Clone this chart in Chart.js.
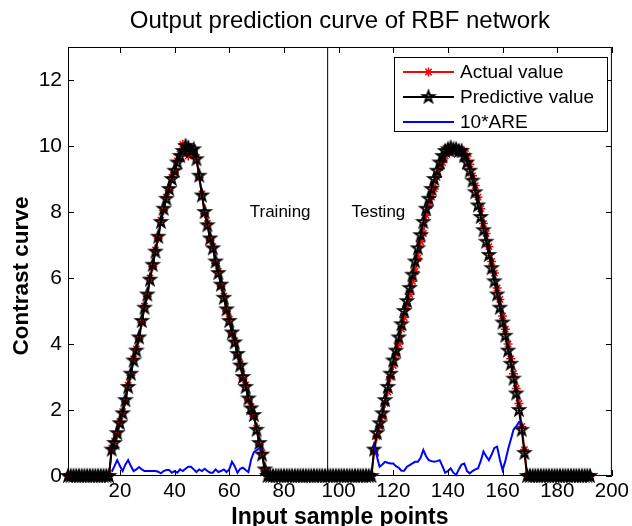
<!DOCTYPE html>
<html>
<head>
<meta charset="utf-8">
<script src="https://cdn.jsdelivr.net/npm/chart.js@4.4.0/dist/chart.umd.min.js"></script>
<style>
  html, body { margin: 0; padding: 0; background: #fff; }
  #wrap { width: 632px; height: 526px; }
</style>
</head>
<body>
<div id="wrap"><canvas id="rbfChart" width="632" height="526"></canvas></div>
<script>
// sample index 1..192 (training 1..95, testing 96..192)
const sampleCount = 192;
const samples = Array.from({ length: sampleCount }, (_, i) => i + 1);

const xTicks = [20, 40, 60, 80, 100, 120, 140, 160, 180, 200];
const yTicks = [0, 2, 4, 6, 8, 10, 12];
const splitPoint = 96;

// Actual value (red *)
const actualValue = [
    0, 0, 0, 0, 0, 0, 0, 0, 0, 0, 0, 0, 0, 0, 0, 0,
    0.85, 1.05, 1.25, 1.65, 1.95, 2.25, 2.75, 3.05, 3.55, 3.85,
    4.15, 4.65, 5.15, 5.45, 6.0, 6.35, 6.85, 7.2, 7.75, 8.05,
    8.45, 8.65, 9.05, 9.2, 9.55, 9.75, 10.05, 9.9, 9.7, 9.75,
    9.85, 9.65, 9.05, 8.55, 7.95, 7.65, 7.15, 6.95, 6.45, 6.2,
    5.75, 5.45, 5.0, 4.75, 4.3, 4.1, 3.65, 3.4, 2.95, 2.75,
    2.3, 2.1, 1.8, 1.45, 0.95, 0.7, 0.15, 0,
    0, 0, 0, 0, 0, 0, 0, 0, 0, 0, 0, 0, 0, 0, 0, 0, 0, 0, 0,
    0, 0, 0, 0, 0, 0, 0, 0, 0, 0, 0, 0, 0, 0, 0, 0, 0, 0, 0,
    0.75, 1.2, 1.5, 1.8, 2.2, 2.55, 3.0, 3.35, 3.7, 4.0,
    4.45, 4.8, 5.15, 5.5, 5.9, 6.2, 6.6, 7.1, 7.35, 7.9,
    8.2, 8.45, 8.7, 9.05, 9.35, 9.5, 9.7, 9.95, 9.85, 9.8,
    9.95, 9.9, 9.75, 9.85, 9.7, 9.45, 9.1, 8.8, 8.45, 8.1,
    7.65, 7.35, 6.95, 6.5, 6.15, 5.7, 5.35, 4.85, 4.45, 4.0,
    3.55, 3.1, 2.65, 2.2, 1.5, 0.8, 0,
    0, 0, 0, 0, 0, 0, 0, 0, 0, 0, 0, 0, 0, 0, 0, 0, 0, 0, 0, 0, 0, 0, 0
];

// Predictive value (black pentagram)
const predictiveValue = [
    0, 0, 0, 0, 0, 0, 0, 0, 0, 0, 0, 0, 0, 0, 0, 0,
    0.8, 1.0, 1.3, 1.6, 1.9, 2.3, 2.7, 3.1, 3.5, 3.8,
    4.2, 4.7, 5.1, 5.5, 5.95, 6.4, 6.8, 7.25, 7.7, 8.1,
    8.4, 8.7, 9.0, 9.25, 9.5, 9.7, 9.85, 10.0, 9.95, 9.85,
    9.9, 9.6, 9.1, 8.5, 8.0, 7.6, 7.2, 6.9, 6.5, 6.15,
    5.8, 5.4, 5.05, 4.7, 4.35, 4.05, 3.7, 3.35, 3.0, 2.7,
    2.35, 2.05, 1.85, 1.4, 1.0, 0.65, 0.2, 0,
    0, 0, 0, 0, 0, 0, 0, 0, 0, 0, 0, 0, 0, 0, 0, 0, 0, 0, 0,
    0, 0, 0, 0, 0, 0, 0, 0, 0, 0, 0, 0, 0, 0, 0, 0, 0, 0, 0,
    0.8, 1.3, 1.6, 1.9, 2.3, 2.7, 3.1, 3.5, 3.8, 4.2,
    4.6, 5.0, 5.3, 5.7, 6.1, 6.5, 6.9, 7.3, 7.7, 8.1,
    8.4, 8.7, 9.0, 9.25, 9.5, 9.7, 9.85, 9.9, 9.95, 9.9,
    9.9, 9.85, 9.85, 9.7, 9.5, 9.25, 8.95, 8.6, 8.2, 7.85,
    7.45, 7.1, 6.7, 6.3, 5.9, 5.5, 5.1, 4.65, 4.25, 3.8,
    3.4, 2.95, 2.5, 2.0, 1.4, 0.7, 0,
    0, 0, 0, 0, 0, 0, 0, 0, 0, 0, 0, 0, 0, 0, 0, 0, 0, 0, 0, 0, 0, 0, 0
];

// 10*ARE, only where the curve is non zero
const areTrainStart = 17;
const areTrain = [
    0.13, 0.3, 0.48, 0.3, 0.15, 0.35, 0.48, 0.3, 0.15, 0.2,
    0.27, 0.2, 0.15, 0.15, 0.15, 0.15, 0.15, 0.13, 0.08, 0.15,
    0.18, 0.18, 0.1, 0.15, 0.1, 0.2, 0.15, 0.22, 0.28, 0.28,
    0.2, 0.12, 0.2, 0.15, 0.22, 0.15, 0.1, 0.1, 0.2, 0.12,
    0.15, 0.2, 0.12, 0.2, 0.43, 0.3, 0.1, 0.22, 0.25, 0.18,
    0.12, 0.5, 0.72, 0.78, 0.84, 0.84
];
const areTestStart = 113;
const areTest = [
    0.95, 0.6, 0.28, 0.35, 0.43, 0.4, 0.38, 0.38, 0.3, 0.25,
    0.16, 0.16, 0.28, 0.33, 0.38, 0.43, 0.43, 0.55, 0.79, 0.6,
    0.48, 0.45, 0.43, 0.45, 0.48, 0.3, 0.1, 0.15, 0.23, 0.1,
    0.03, 0.2, 0.35, 0.38, 0.15, 0.08, 0.15, 0.2, 0.23, 0.45,
    0.74, 0.6, 0.48, 0.65, 0.85, 0.89, 0.5, 0.18, 0.45, 0.8,
    1.1, 1.4, 1.5, 1.64, 1.64
];

const areLine = areTrain.map((v, i) => ({ x: areTrainStart + i, y: v }))
    .concat([{ x: 95, y: null }])
    .concat(areTest.map((v, i) => ({ x: areTestStart + i, y: v })));

const FONT = "'Liberation Sans', Arial, sans-serif";

// MATLAB style pentagram marker
function makePentagram(r, lw) {
    const size = Math.ceil(2 * r + lw * 2 + 2);
    const c = document.createElement('canvas');
    c.width = size;
    c.height = size;
    const g = c.getContext('2d');
    const cx = size / 2, cy = size / 2;
    g.beginPath();
    for (let k = 0; k < 10; k++) {
        const rad = k % 2 === 0 ? r : r * 0.4;
        const a = -Math.PI / 2 + k * Math.PI / 5;
        const px = cx + rad * Math.cos(a), py = cy + rad * Math.sin(a);
        if (k === 0) g.moveTo(px, py); else g.lineTo(px, py);
    }
    g.closePath();
    g.lineWidth = lw;
    g.strokeStyle = '#000';
    g.stroke();
    return c;
}
const pentagram = makePentagram(5.8, 2);

function drawAsterisk(ctx, x, y, r, color) {
    ctx.strokeStyle = color;
    ctx.lineWidth = 1.5;
    ctx.beginPath();
    for (let k = 0; k < 4; k++) {
        const ang = k * Math.PI / 4;
        ctx.moveTo(x - r * Math.cos(ang), y - r * Math.sin(ang));
        ctx.lineTo(x + r * Math.cos(ang), y + r * Math.sin(ang));
    }
    ctx.stroke();
}

// title, y label, box, inward ticks, legend and text labels
const matlabFrame = {
    id: 'matlabFrame',
    afterDraw(chart) {
        const ctx = chart.ctx;
        const a = chart.chartArea;
        const xs = chart.scales.x, ys = chart.scales.y;
        ctx.save();

        ctx.fillStyle = '#000';
        ctx.textAlign = 'center';
        ctx.textBaseline = 'middle';
        ctx.font = '24px ' + FONT;
        ctx.fillText('Output prediction curve of RBF network', (a.left + a.right) / 2, 21);

        ctx.save();
        ctx.translate(22, 276);
        ctx.rotate(-Math.PI / 2);
        ctx.font = 'bold 22.5px ' + FONT;
        ctx.fillText('Contrast curve', 0, 0);
        ctx.restore();

        ctx.strokeStyle = '#000';
        ctx.lineWidth = 1;
        ctx.strokeRect(a.left + 0.5, a.top + 0.5, a.right - a.left - 1, a.bottom - a.top - 1);
        ctx.beginPath();
        xTicks.forEach(v => {
            const px = Math.round(xs.getPixelForValue(v)) + 0.5;
            ctx.moveTo(px, a.bottom); ctx.lineTo(px, a.bottom - 6);
            ctx.moveTo(px, a.top); ctx.lineTo(px, a.top + 6);
        });
        yTicks.forEach(v => {
            const py = Math.round(ys.getPixelForValue(v)) + 0.5;
            ctx.moveTo(a.left, py); ctx.lineTo(a.left + 6, py);
            ctx.moveTo(a.right, py); ctx.lineTo(a.right - 6, py);
        });
        ctx.stroke();

        // Training / Testing
        ctx.fillStyle = '#000';
        ctx.font = '17px ' + FONT;
        ctx.textBaseline = 'middle';
        ctx.textAlign = 'left';
        ctx.fillText('Training', xs.getPixelForValue(67.5), ys.getPixelForValue(8));
        ctx.fillText('Testing', xs.getPixelForValue(104.7), ys.getPixelForValue(8));

        // legend
        const bx = 394.5, by = 57.5, bw = 213, bh = 74;
        ctx.fillStyle = '#fff';
        ctx.fillRect(bx, by, bw, bh);
        ctx.strokeStyle = '#000';
        ctx.lineWidth = 1;
        ctx.strokeRect(bx, by, bw, bh);
        const rows = [
            { text: 'Actual value', color: '#ff0000', marker: 'star' },
            { text: 'Predictive value', color: '#000000', marker: 'penta' },
            { text: '10*ARE', color: '#0000ff', marker: null }
        ];
        ctx.font = '19px ' + FONT;
        rows.forEach((r, i) => {
            const y = 72 + i * 25;
            ctx.strokeStyle = r.color;
            ctx.lineWidth = 2;
            ctx.beginPath();
            ctx.moveTo(403, y); ctx.lineTo(454, y);
            ctx.stroke();
            if (r.marker === 'star') {
                drawAsterisk(ctx, 428.5, y, 4.5, r.color);
            } else if (r.marker === 'penta') {
                ctx.drawImage(pentagram, 428.5 - pentagram.width / 2, y - pentagram.height / 2);
            }
            ctx.fillStyle = '#000';
            ctx.fillText(r.text, 460, y + 1);
        });
        ctx.restore();
    }
};

const rbfctx = document.getElementById('rbfChart').getContext('2d');
const rbfChart = new Chart(rbfctx, {
    type: 'line',
    data: {
        labels: samples,
        datasets: [
            {
                label: '10*ARE',
                data: areLine,
                borderColor: '#0000ff',
                borderWidth: 2,
                pointRadius: 0,
                spanGaps: false,
                clip: false
            },
            {
                label: 'Predictive value',
                data: predictiveValue,
                borderColor: '#000000',
                borderWidth: 2,
                pointStyle: pentagram,
                pointRadius: 6,
                clip: false
            },
            {
                label: 'Actual value',
                data: actualValue,
                borderColor: '#ff0000',
                backgroundColor: '#ff0000',
                borderWidth: 2,
                pointStyle: 'star',
                pointRadius: 4.5,
                pointBorderWidth: 1.5,
                clip: false
            },
            {
                label: 'split',
                data: [{ x: splitPoint, y: 0 }, { x: splitPoint, y: 13 }],
                borderColor: '#000000',
                borderWidth: 1,
                pointRadius: 0
            }
        ]
    },
    options: {
        responsive: false,
        animation: false,
        devicePixelRatio: 1,
        layout: { padding: { left: 0, right: 19, top: 47, bottom: 0 } },
        elements: { line: { tension: 0 } },
        plugins: {
            legend: { display: false },
            tooltip: { enabled: false },
            title: { display: false }
        },
        scales: {
            x: {
                type: 'linear',
                min: 1,
                max: 200,
                afterBuildTicks: axis => { axis.ticks = xTicks.map(v => ({ value: v })); },
                afterFit: axis => { axis.height = 50; },
                grid: { display: false, drawTicks: false },
                border: { display: false },
                ticks: {
                    color: '#000',
                    padding: 3,
                    maxRotation: 0,
                    autoSkip: false,
                    font: { family: FONT, size: 20.5 }
                },
                title: {
                    display: true,
                    text: 'Input sample points',
                    color: '#000',
                    font: { family: FONT, size: 23, weight: 'bold', lineHeight: 0.75 },
                    padding: { top: 0, bottom: 0 }
                }
            },
            y: {
                min: 0,
                max: 13,
                afterBuildTicks: axis => { axis.ticks = yTicks.map(v => ({ value: v })); },
                afterFit: axis => { axis.width = 68; },
                grid: { display: false, drawTicks: false },
                border: { display: false },
                ticks: {
                    color: '#000',
                    padding: 6,
                    autoSkip: false,
                    font: { family: FONT, size: 21 }
                },
                title: { display: false }
            }
        }
    },
    plugins: [matlabFrame]
});
</script>
</body>
</html>
